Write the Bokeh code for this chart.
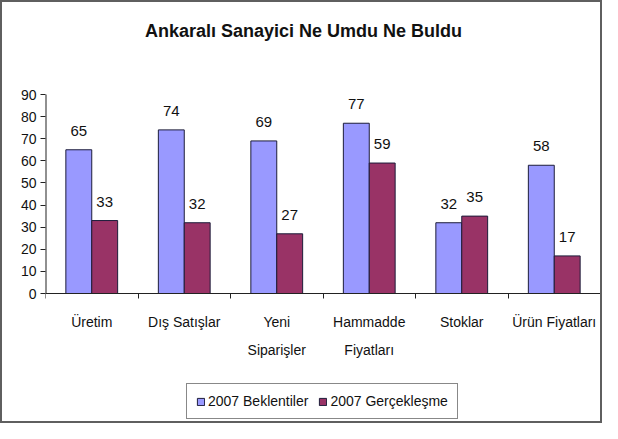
from bokeh.plotting import figure
from bokeh.models import (Range1d, FixedTicker, ColumnDataSource, LabelSet,
                          Label, Legend, LegendItem)
from bokeh.core.properties import value
from bokeh.embed import file_html
from bokeh.resources import INLINE

# ---- data ----
title_text = "Ankaralı Sanayici Ne Umdu Ne Buldu"
categories = ["Üretim", "Dış Satışlar", "Yeni\nSiparişler",
              "Hammadde\nFiyatları", "Stoklar", "Ürün Fiyatları"]
series_names = ["2007 Beklentiler", "2007 Gerçekleşme"]
beklentiler = [65, 74, 69, 77, 32, 58]
gerceklesme = [33, 32, 27, 59, 35, 17]
y_ticks = [0, 10, 20, 30, 40, 50, 60, 70, 80, 90]

# ---- layout / styles ----
FONT = "Liberation Sans"
BLUE = "#9999FF"
RED = "#993366"
EDGE = "#1c1c3a"
AXIS = "#222222"
TXT = "#111111"
BAR_W = 0.28
W, H = 602, 423
FL, FR = 43, 598          # frame left / right in px
Y0_PX, YTOP_PX = 291, 92  # pixel rows of y=0 and y=max tick
TITLE_BASE_PX = 28

n = len(categories)
ymax = max(y_ticks)
ppu = (Y0_PX - YTOP_PX) / ymax
y_start = -(H - Y0_PX) / ppu
y_end = ymax + YTOP_PX / ppu
ppx = (FR - FL) / n

centers = [i + 0.5 for i in range(n)]
x_blue = [c - BAR_W / 2 for c in centers]
x_red = [c + BAR_W / 2 for c in centers]

p = figure(width=W, height=H, output_backend="svg", toolbar_location=None,
           x_range=Range1d(0, n), y_range=Range1d(y_start, y_end),
           min_border_left=FL, min_border_right=W - FR,
           min_border_top=0, min_border_bottom=0)
p.styles = {"border": "2px solid #5f5f5f"}

p.outline_line_color = None
p.xgrid.grid_line_color = None
p.ygrid.grid_line_color = None
p.background_fill_color = "white"
p.border_fill_color = "white"

# title (centred on the whole chart)
p.add_layout(Label(x=(W / 2 - FL) / ppx,
                   y=ymax + (YTOP_PX - TITLE_BASE_PX) / ppu,
                   text=title_text, text_align="center",
                   text_baseline="alphabetic", text_font=FONT,
                   text_font_size="18px", text_font_style="bold",
                   text_color=TXT))

src_b = ColumnDataSource(dict(x=x_blue, y=beklentiler,
                              t=[str(v) for v in beklentiler]))
src_r = ColumnDataSource(dict(x=x_red, y=gerceklesme,
                              t=[str(v) for v in gerceklesme]))

rb = p.vbar(x="x", top="y", width=BAR_W, bottom=0, source=src_b,
            fill_color=BLUE, line_color=EDGE, line_width=1)
rr = p.vbar(x="x", top="y", width=BAR_W, bottom=0, source=src_r,
            fill_color=RED, line_color=EDGE, line_width=1)

for src in (src_b, src_r):
    p.add_layout(LabelSet(x="x", y="y", text="t", source=src,
                          text_align="center", text_baseline="alphabetic",
                          y_offset=14, text_font=value(FONT),
                          text_font_size=value("15px"),
                          text_color=TXT))

# y axis line only from 0 to the top tick
p.segment(x0=[0], y0=[0], x1=[0], y1=[ymax], line_color=AXIS, line_width=2)

# x axis at y=0: labels at category centres, ticks at category boundaries
xa = p.xaxis[0]
xa.fixed_location = 0
xa.ticker = FixedTicker(ticks=centers, minor_ticks=list(range(n + 1)))
xa.major_label_overrides = {c: lab for c, lab in zip(centers, categories)}
xa.major_tick_in = 0
xa.major_tick_out = 0
xa.minor_tick_in = 0
xa.minor_tick_out = 5
xa.minor_tick_line_color = AXIS
xa.axis_line_color = AXIS
xa.major_label_text_font = FONT
xa.major_label_text_font_size = "14px"
xa.major_label_text_color = TXT
xa.major_label_text_line_height = 1.75
xa.major_label_standoff = 15

ya = p.yaxis[0]
ya.ticker = FixedTicker(ticks=y_ticks, minor_ticks=[])
ya.major_tick_in = 0
ya.major_tick_out = 5
ya.major_tick_line_color = AXIS
ya.axis_line_color = None
ya.major_label_text_font = FONT
ya.major_label_text_font_size = "14px"
ya.major_label_text_color = TXT
ya.major_label_standoff = 4

legend = Legend(items=[LegendItem(label=series_names[0], renderers=[rb]),
                       LegendItem(label=series_names[1], renderers=[rr])],
                orientation="horizontal", location=(184 - FL, 6),
                glyph_width=9, glyph_height=9, label_standoff=3, spacing=10,
                padding=9, margin=0,
                label_text_font=FONT, label_text_font_size="14px",
                label_text_color=TXT, label_height=14,
                border_line_color=TXT, border_line_width=1,
                background_fill_alpha=1.0)
p.add_layout(legend, "center")

open("out.html", "w").write(file_html(p, INLINE))
